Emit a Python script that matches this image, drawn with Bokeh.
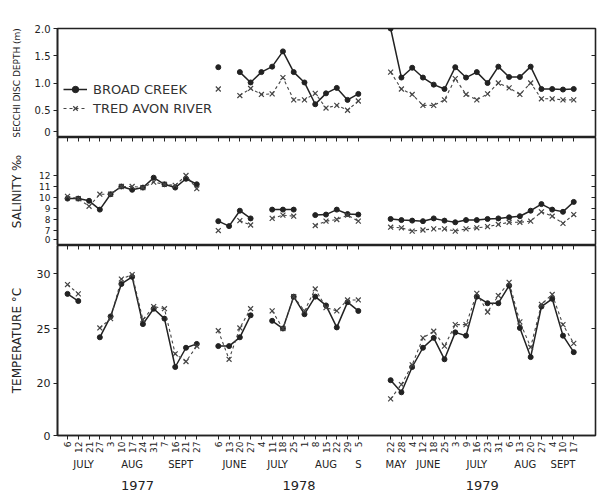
import math
from bokeh.plotting import figure
from bokeh.layouts import column
from bokeh.models import Range1d, FixedTicker, LinearAxis, Legend, LegendItem
from bokeh.embed import file_html
from bokeh.resources import INLINE

NAN = float("nan")
FONT = "DejaVu Sans"
INK = "#222222"

# ---- sampling dates (day of month, grouped by month and season) ----
years = ["1977", "1978", "1979"]
months_1977 = ["JULY", "AUG", "SEPT"]
days_1977 = [[6, 12, 21, 27], [3, 10, 17, 24, 31], [7, 16, 21, 27]]
months_1978 = ["JUNE", "JULY", "AUG", "S"]
days_1978 = [[6, 13, 20, 27], [4, 11, 18, 25], [1, 8, 15, 22, 29], [5]]
months_1979 = ["MAY", "JUNE", "JULY", "AUG", "SEPT"]
days_1979 = [[22, 28], [4, 12, 18, 25], [3, 9, 16, 23, 31], [6, 13, 20, 27], [4, 10, 17]]

# ---- Secchi disc depth (m) ----
secchi_broad_1977 = [None, None, None, None, None, None, None, None, None, None, None, None, None]
secchi_broad_1978 = [1.29, None, 1.20, 1.01, 1.20, 1.30, 1.58, 1.20, 1.01, 0.61, 0.81, 0.91, 0.69, 0.80]
secchi_broad_1979 = [2.0, 1.10, 1.28, 1.10, 0.97, 0.89, 1.29, 1.10, 1.20, 1.00, 1.30, 1.11, 1.11, 1.30, 0.89, 0.89, 0.88, 0.89]
secchi_tred_1977 = [None, None, None, None, None, None, None, None, None, None, None, None, None]
secchi_tred_1978 = [0.89, None, 0.77, 0.90, 0.79, 0.80, 1.10, 0.69, 0.69, 0.81, 0.54, 0.59, 0.50, 0.67]
secchi_tred_1979 = [1.20, 0.89, 0.79, 0.59, 0.59, 0.69, 1.08, 0.79, 0.69, 0.80, 1.00, 0.91, 0.79, 1.00, 0.71, 0.71, 0.69, 0.69]

# ---- Salinity (o/oo) ----
sal_broad_1977 = [9.9, 9.9, 9.7, 8.9, 10.3, 11.0, 10.7, 10.9, 11.8, 11.2, 10.9, 11.7, 11.2]
sal_broad_1978 = [7.85, 7.4, 8.8, 8.1, None, 8.9, 8.9, 8.9, None, 8.4, 8.45, 8.9, 8.5, 8.45]
sal_broad_1979 = [8.05, 7.95, 7.9, 7.85, 8.1, 7.9, 7.75, 7.95, 7.95, 8.05, 8.1, 8.2, 8.3, 8.8, 9.4, 8.9, 8.7, 9.6]
sal_tred_1977 = [10.1, 9.9, 9.2, 10.3, 10.3, 11.0, 11.0, 10.9, 11.4, 11.2, 11.1, 12.0, 10.8]
sal_tred_1978 = [7.0, None, 7.9, 7.5, None, 8.1, 8.4, 8.3, None, 7.45, 7.85, 8.0, 8.4, 7.85]
sal_tred_1979 = [7.3, 7.25, 6.95, 7.05, 7.15, 7.15, 6.95, 7.15, 7.25, 7.35, 7.55, 7.75, 7.75, 7.85, 8.7, 8.3, 7.65, 8.45]

# ---- Water temperature (deg C) ----
temp_broad_1977 = [28.15, 27.5, None, 24.2, 26.1, 29.05, 29.7, 25.4, 26.8, 25.9, 21.5, 23.25, 23.6]
temp_broad_1978 = [23.4, 23.4, 24.2, 26.2, None, 25.7, 25.0, 27.9, 26.3, 27.9, 27.1, 25.1, 27.4, 26.6]
temp_broad_1979 = [20.3, 19.2, 21.5, 23.25, 24.15, 22.2, 24.65, 24.35, 27.9, 27.3, 27.3, 28.9, 25.05, 22.4, 27.0, 27.7, 24.35, 22.85]
temp_tred_1977 = [29.0, 28.15, None, 25.05, 25.9, 29.5, 29.9, 25.8, 27.0, 26.8, 22.7, 22.0, 23.4]
temp_tred_1978 = [24.8, 22.2, 25.05, 26.8, None, 26.6, 25.0, 27.9, 26.6, 28.6, 26.9, 26.6, 27.6, 27.6]
temp_tred_1979 = [18.6, 19.9, 21.7, 24.15, 24.75, 23.4, 25.35, 25.35, 28.2, 26.5, 28.0, 29.2, 25.6, 23.3, 27.2, 28.1, 25.35, 23.65]

# ---- sampling dates laid out as equally spaced slots, seasons separated by empty slots ----
seasons = [(months_1977, days_1977), (months_1978, days_1978), (months_1979, days_1979)]
empty_slots_after = [1, 2, 0]

date_labels = {}
month_labels = {}
year_labels = {}
season_slots = []
slot = 0
for (months, days), gap, yr in zip(seasons, empty_slots_after, years):
    slots = []
    for m, dl in zip(months, days):
        ms = []
        for d in dl:
            date_labels[slot] = str(d)
            ms.append(slot)
            slot += 1
        month_labels[sum(ms) / len(ms)] = m
        slots += ms
    season_slots.append(slots)
    # year caption centred on the season plus the blank slots that follow it
    year_labels[(slots[0] + slots[-1] + gap) / 2] = yr
    slot += gap

all_slots = sorted(date_labels)
x_range = Range1d(-0.93, 49.02)


def series(by_year):
    xs, ys = [], []
    for slots, vals in zip(season_slots, by_year):
        for s, v in zip(slots, vals):
            xs.append(s)
            ys.append(NAN if v is None else v)
        xs.append(slots[-1] + 0.5)
        ys.append(NAN)
    return xs, ys


def tick_only_axis(ticks):
    # bare inward tick marks, no labels
    return LinearAxis(ticker=FixedTicker(ticks=ticks),
                      major_label_overrides={t: "" for t in ticks},
                      major_tick_in=4, major_tick_out=0,
                      major_label_text_font_size="0px", major_label_standoff=0,
                      major_tick_line_color=INK, axis_line_color=None)


def panel(height, y0, y1, ticks, labels, right_ticks, title, title_size, tick_size,
          title_standoff, top=0, bottom=0, boundary_ticks=True):
    p = figure(width=597, height=height, x_range=x_range, y_range=Range1d(y0, y1),
               output_backend="svg", toolbar_location=None,
               x_axis_type=None, y_axis_type=None,
               min_border_left=57, min_border_right=2,
               min_border_top=top, min_border_bottom=bottom)
    p.background_fill_color = "white"
    p.border_fill_color = "white"
    p.outline_line_color = INK
    p.outline_line_width = 1.6

    left = LinearAxis(ticker=FixedTicker(ticks=ticks), major_label_overrides=labels,
                      axis_label=title, axis_label_standoff=title_standoff,
                      axis_label_text_font=FONT, axis_label_text_font_size=title_size,
                      axis_label_text_font_style="normal", axis_label_text_color=INK,
                      major_label_text_font=FONT, major_label_text_font_size=tick_size,
                      major_label_text_color=INK, major_label_standoff=3,
                      major_tick_in=0, major_tick_out=4, major_tick_line_color=INK,
                      axis_line_color=INK, axis_line_width=1.6)
    p.add_layout(left, "left")
    p.add_layout(tick_only_axis(right_ticks), "right")
    if boundary_ticks:
        p.add_layout(tick_only_axis(all_slots), "above")
    return p


def draw(p, broad, tred):
    bx, by = series(broad)
    tx, ty = series(tred)
    bl = p.line(bx, by, line_color=INK, line_width=1.5)
    bd = p.scatter(bx, by, marker="circle", size=5, fill_color=INK, line_color=INK)
    tl = p.line(tx, ty, line_color="#444444", line_width=1.1, line_dash="3 3")
    td = p.scatter(tx, ty, marker="x", size=7, line_color="#444444", line_width=1.2)
    return bl, bd, tl, td


# Secchi disc depth; the "0" sits just above the panel edge so it is not cut
s_zero = 0.11
p1 = panel(137, 0, 2.0, [s_zero, 0.5, 1.0, 1.5, 2.0],
           {s_zero: "0", 0.5: "0.5", 1.0: "1.0", 1.5: "1.5", 2.0: "2.0"},
           [0.5, 1.0, 1.5], "SECCHI DISC DEPTH (m)", "9px", "10px", 10,
           top=28, boundary_ticks=False)
bl, bd, tl, td = draw(p1, [secchi_broad_1977, secchi_broad_1978, secchi_broad_1979],
                      [secchi_tred_1977, secchi_tred_1978, secchi_tred_1979])
legend = Legend(items=[LegendItem(label="BROAD CREEK", renderers=[bl, bd]),
                       LegendItem(label="TRED AVON RIVER", renderers=[tl, td])],
                location=(6, 21), border_line_color=None, background_fill_alpha=0,
                padding=0, margin=0, spacing=3, glyph_height=16, label_height=16,
                glyph_width=24, label_standoff=6, label_text_font=FONT,
                label_text_font_size="13px", label_text_color="#333333")
p1.add_layout(legend)

# Salinity (broken axis: "0" marks the bottom of the panel)
sal_lo, sal_hi = 5.64, 15.45
sal_zero = sal_lo + 0.5
p2 = panel(108, sal_lo, sal_hi, [sal_zero, 7, 8, 9, 10, 11, 12],
           {sal_zero: "0", 7: "7", 8: "8", 9: "9", 10: "10", 11: "11", 12: "12"},
           [7, 8, 9, 10, 11, 12], "SALINITY \u2030", "12px", "9px", 12)
draw(p2, [sal_broad_1977, sal_broad_1978, sal_broad_1979],
     [sal_tred_1977, sal_tred_1978, sal_tred_1979])

# Temperature (broken axis as well)
t_lo, t_hi = 15.27, 32.55
p3 = panel(252, t_lo, t_hi, [t_lo, 20, 25, 30],
           {t_lo: "0", 20: "20", 25: "25", 30: "30"},
           [20, 25, 30], "TEMPERATURE \u00b0C", "12px", "11px", 10, bottom=62)
draw(p3, [temp_broad_1977, temp_broad_1978, temp_broad_1979],
     [temp_tred_1977, temp_tred_1978, temp_tred_1979])

dates_axis = LinearAxis(ticker=FixedTicker(ticks=all_slots), major_label_overrides=date_labels,
                        major_label_orientation=math.pi / 2, major_label_text_font=FONT,
                        major_label_text_font_size="9px", major_label_text_color=INK,
                        major_label_standoff=2, major_tick_in=0, major_tick_out=4,
                        major_tick_line_color=INK, axis_line_color=INK, axis_line_width=1.6)
p3.add_layout(dates_axis, "below")
month_axis = LinearAxis(ticker=FixedTicker(ticks=sorted(month_labels)), major_label_overrides=month_labels,
                        major_label_text_font=FONT, major_label_text_font_size="10px",
                        major_label_text_color=INK, major_label_standoff=3,
                        major_tick_in=0, major_tick_out=0, axis_line_color=None)
p3.add_layout(month_axis, "below")
year_axis = LinearAxis(ticker=FixedTicker(ticks=sorted(year_labels)), major_label_overrides=year_labels,
                       major_label_text_font=FONT, major_label_text_font_size="13px",
                       major_label_text_color=INK, major_label_standoff=8,
                       major_tick_in=0, major_tick_out=0, axis_line_color=None)
p3.add_layout(year_axis, "below")

layout = column(p1, p2, p3, spacing=0)
open("out.html", "w").write(file_html(layout, INLINE))
